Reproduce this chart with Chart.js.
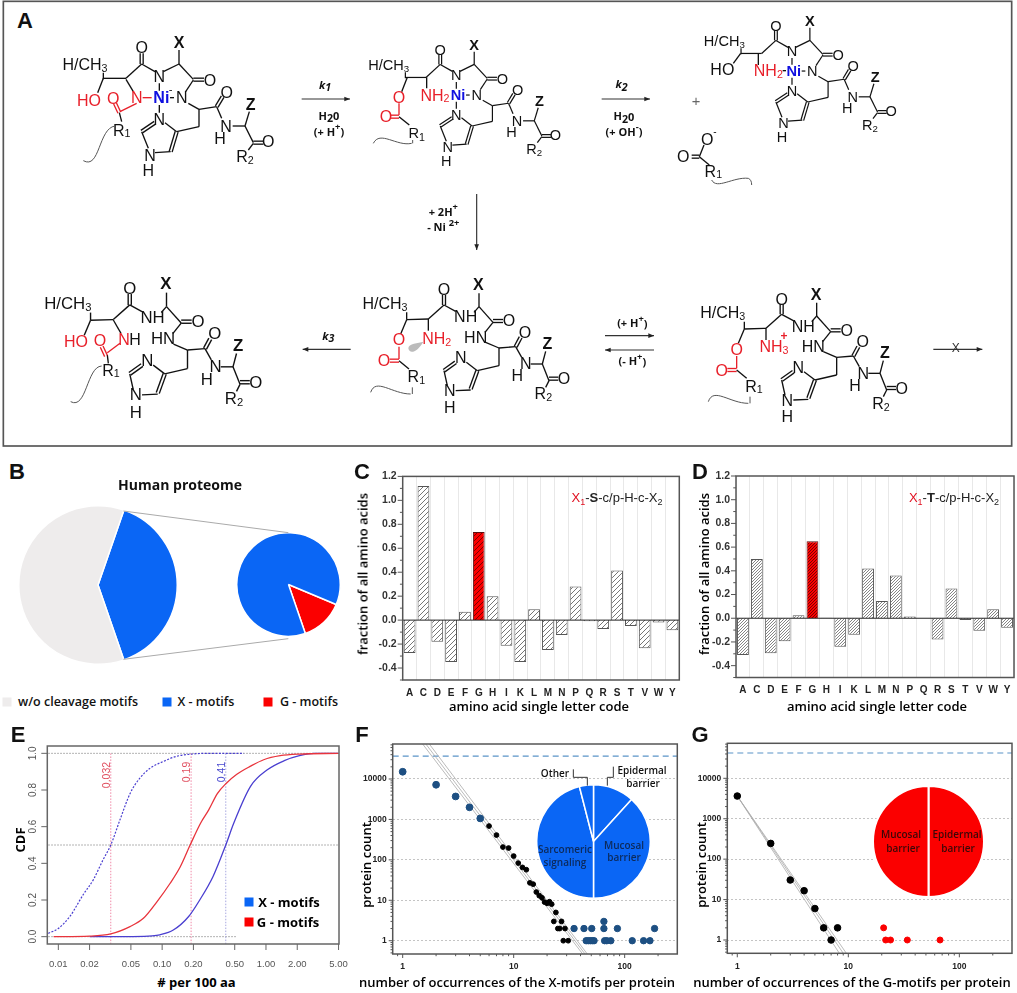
<!DOCTYPE html>
<html>
<head>
<meta charset="utf-8">
<title>Cleavage motifs</title>
<script src="https://cdn.jsdelivr.net/npm/chart.js@4"></script>
<style>
html, body { margin: 0; background: #fff; }
body { position: relative; width: 1017px; height: 993px; overflow: hidden; font-family: 'Open Sans', sans-serif; }
canvas { position: absolute; }
svg { position: absolute; left: 0; top: 0; }
.t { position: absolute; white-space: nowrap; color: #111; line-height: 1; }
.ax { font-weight: 600; font-size: 13px; color: #000; }
.pl { font-family: 'Liberation Sans', sans-serif; font-weight: 700; font-size: 22px; color: #111; }
.motif { font-family: 'Liberation Sans', sans-serif; font-size: 13px; color: #222; }
.motif sub { font-size: 9px; line-height: 0; }
</style>
</head>
<body>
<script>
// ===== panel B =====
const overviewLabels = ['X - motifs', 'w/o cleavage motifs'];
const overviewShare = [39.4, 60.6];
const motifLabels = ['G - motifs', 'X - motifs'];
const motifShare = [13.4, 86.6];

// ===== panels C, D =====
const aminoAcids = ['A','C','D','E','F','G','H','I','K','L','M','N','P','Q','R','S','T','V','W','Y'];
const serineValues = [-0.275,1.12,-0.18,-0.35,0.07,0.735,0.2,-0.215,-0.35,0.09,-0.25,-0.125,0.28,-0.01,-0.075,0.415,-0.05,-0.235,-0.02,-0.085];
const threonineValues = [-0.31,0.5,-0.295,-0.195,0.025,0.65,0.005,-0.24,-0.14,0.42,0.145,0.36,0.015,0,-0.18,0.25,-0.015,-0.105,0.075,-0.08];
const barTicks = [-0.5,-0.4,-0.3,-0.2,-0.1,0,0.1,0.2,0.3,0.4,0.5,0.6,0.7,0.8,0.9,1,1.1,1.2];
const barTickLabels = [-0.4,-0.2,0,0.2,0.4,0.6,0.8,1,1.2];

// ===== panel E =====
const cdfTicksX = [0.01,0.02,0.05,0.1,0.2,0.5,1,2,5];
const cdfTicksY = [0,0.2,0.4,0.6,0.8,1];
const xSolidX = [0.02,0.05,0.08,0.095,0.128,0.18,0.23,0.31,0.41,0.49,0.71,1.03,1.5,2.1,2.9,5];
const xSolidY = [0,0.0005,0.004,0.01,0.036,0.11,0.2,0.33,0.5,0.62,0.82,0.91,0.96,0.987,1,1];
const gSolidX = [0.009,0.02,0.032,0.049,0.066,0.089,0.119,0.149,0.186,0.235,0.28,0.34,0.42,0.52,0.71,0.95,1.37,2.1,5];
const gSolidY = [0,0.003,0.015,0.055,0.1,0.19,0.29,0.38,0.5,0.62,0.69,0.78,0.84,0.885,0.93,0.965,0.987,0.996,1];
const xDottedX = [0.008,0.01,0.0129,0.0174,0.0217,0.027,0.032,0.0394,0.049,0.061,0.077,0.103,0.138,0.186,0.27,0.61];
const xDottedY = [0.018,0.045,0.11,0.23,0.31,0.42,0.5,0.64,0.78,0.865,0.92,0.956,0.984,0.995,1,1];
const medianX = [0.032,0.19,0.41];

// ===== panel F =====
const fHeadX = [1,2,3,4,5];
const fHeadY = [15100,7200,3700,1990,1060];
const fMidX = [6,7,8,9,10,11,12,13,14,15,16,17,18,19,20,21,22,24,23,27,25,26,29,28,31];
const fMidY = [686,410,207,196,124,83,65,57,27,25,16,13,11.5,9,8.4,9.2,8,5,3,3,2,2,2,1,1];
const fTailX = [35,43,50.5,65,86,186,65,45,47,49,51,53,66,69,75,117,148,169];
const fTailY = [2,2,2,2,2,2,3,1,1,1,1,1,1,1,1,1,1,1];
const fCeiling = 36900;
const fFitStartX = [1.515,1.62,1.74];
const fFitEndX = [41.8,43.9,46];
const fFitY = [73000,0.47];
const fPieLabels = ['Epidermal barrier','Mucosal barrier','Sarcomeric signaling','Other'];
const fPieShare = [11.7,38.3,46,4];

// ===== panel G =====
const gHeadX = [1,2,3,4,5,6,7,8];
const gHeadY = [3640,245,30.5,16.6,6,2,1,2];
const gTailX = [20.8,21.7,24,34,67];
const gTailY = [2,1,1,1,1];
const gCeiling = 42200;
const gFitStartX = [1,1,1];
const gFitEndX = [8.3,9,9.6];
const gFitY = [3640,0.47];
const gPieLabels = ['Mucosal barrier','Epidermal barrier'];
const gPieShare = [50,50];

const countMajor = [1,10,100,1000,10000];
const occurrenceMajor = [1,10,100];

const BLUE = '#0a66f5', RED = '#fb0000', NAVY = '#1d4f82';

Chart.defaults.animation = false;
Chart.defaults.font.family = "'Liberation Sans', sans-serif";
Chart.defaults.plugins.legend.display = false;
Chart.defaults.plugins.tooltip.enabled = false;

// ticks, frame and rotated labels in the style of the original plots
Chart.register({
    id: 'decor',
    afterDatasetsDraw(chart, args, o) {
        if (!o.frameColor) return;
        const { ctx, chartArea: a } = chart;
        ctx.save();
        if (o.zeroLine) {
            const y0 = chart.scales.y.getPixelForValue(0);
            ctx.strokeStyle = '#222';
            ctx.lineWidth = 1;
            ctx.beginPath(); ctx.moveTo(a.left, y0); ctx.lineTo(a.right, y0); ctx.stroke();
        }
        ctx.strokeStyle = o.frameColor;
        ctx.lineWidth = o.frameWidth;
        ctx.strokeRect(a.left, a.top, a.right - a.left, a.bottom - a.top);
        ctx.lineWidth = 1;
        const sx = chart.scales.x, sy = chart.scales.y;
        if (o.tickX) sx.ticks.forEach((t, i) => {
            const p = sx.getPixelForTick(i);
            ctx.beginPath(); ctx.moveTo(p, a.bottom); ctx.lineTo(p, a.bottom + (t.major ? o.tickX : o.tickX * 0.55)); ctx.stroke();
        });
        sy.ticks.forEach((t, i) => {
            const p = sy.getPixelForTick(i);
            ctx.beginPath(); ctx.moveTo(a.left, p); ctx.lineTo(a.left - (t.major ? o.tickY : o.tickY * 0.55), p); ctx.stroke();
        });
        if (o.rotateY) {
            ctx.fillStyle = '#555';
            ctx.font = "10px 'Liberation Sans'";
            ctx.textAlign = 'center';
            ctx.textBaseline = 'middle';
            sy.ticks.forEach((t, i) => {
                ctx.save();
                ctx.translate(a.left - o.rotateY, sy.getPixelForTick(i));
                ctx.rotate(-Math.PI / 2);
                ctx.fillText(t.label, 0, 0);
                ctx.restore();
            });
        }
        ctx.restore();
    }
});

function addCanvas(left, top, width, height) {
    const c = document.createElement('canvas');
    c.width = width;
    c.height = height;
    c.style.left = left + 'px';
    c.style.top = top + 'px';
    document.body.appendChild(c);
    return c;
}

function label(html, x, y, cls, css, rot) {
    const d = document.createElement('div');
    d.className = 't ' + (cls || '');
    d.innerHTML = html;
    d.style.cssText = 'left:' + x + 'px;top:' + y + 'px;transform:translate(-50%,-50%)' + (rot ? ' rotate(' + rot + 'deg)' : '') + ';' + (css || '');
    document.body.appendChild(d);
}

function hatch(bg, line, size, width) {
    const c = document.createElement('canvas');
    c.width = c.height = size;
    const g = c.getContext('2d');
    g.fillStyle = bg;
    g.fillRect(0, 0, size, size);
    g.strokeStyle = line;
    g.lineWidth = width;
    g.beginPath();
    g.moveTo(-1, 1); g.lineTo(1, -1);
    g.moveTo(0, size); g.lineTo(size, 0);
    g.moveTo(size - 1, size + 1); g.lineTo(size + 1, size - 1);
    g.stroke();
    return g.createPattern(c, 'repeat');
}

const toPoints = (xs, ys) => xs.map((x, i) => ({ x: x, y: ys[i] }));

function logTicks(min, max) {
    const out = [];
    for (let e = -1; e <= 5; e++) {
        for (let j = 1; j <= 9; j++) {
            const v = j * Math.pow(10, e);
            if (v >= min && v <= max) out.push(Number(v.toPrecision(3)));
        }
    }
    return out;
}

// scale with a fixed outer size so the plot frame lands where it should
function fixSize(s, size, isHorizontal) {
    if (isHorizontal) s.height = size; else s.width = size;
    s.paddingLeft = s.paddingRight = s.paddingTop = s.paddingBottom = 0;
}

function fixedScale(base, size, tickValues, majorValues, isHorizontal) {
    return Object.assign({
        afterFit(s) { fixSize(s, size, isHorizontal); },
        afterBuildTicks(s) {
            s.ticks = tickValues.map(v => ({ value: v, major: majorValues.includes(v) }));
        },
        border: { display: false },
        grid: { display: false, drawTicks: false }
    }, base);
}

function barPanel(box, cats, values, tile, redTile, barPct) {
    const c = addCanvas(box.cx, box.cy, box.cw, box.ch);
    new Chart(c, {
        type: 'bar',
        data: {
            labels: cats,
            datasets: [{
                data: values,
                backgroundColor: cats.map(a => a === 'G' ? redTile : tile),
                borderColor: cats.map(a => a === 'G' ? '#5a1010' : '#555'),
                borderWidth: 1,
                barPercentage: barPct,
                categoryPercentage: 1
            }]
        },
        options: {
            responsive: false,
            layout: { padding: { top: box.t - box.cy, right: box.cx + box.cw - box.r, left: 0, bottom: 0 } },
            scales: {
                x: {
                    afterFit(s) { fixSize(s, box.cy + box.ch - box.b, true); },
                    border: { display: false },
                    grid: { offset: true, color: '#e8e8e8', drawTicks: false },
                    ticks: { padding: 7, autoSkip: false, maxRotation: 0, color: '#222', font: { size: 10, weight: 'bold' } }
                },
                y: fixedScale({
                    min: -0.5, max: 1.2,
                    ticks: {
                        padding: 6, autoSkip: false, color: '#333', font: { size: 10.5, weight: 'bold' },
                        callback(v, i, t) { return t[i].major ? v.toFixed(1) : ''; }
                    }
                }, box.l - box.cx, barTicks, barTickLabels, false)
            },
            plugins: { decor: { frameColor: '#555', frameWidth: 1.5, tickY: 5, zeroLine: true } }
        }
    });
}

function countPanel(box, datasets) {
    const c = addCanvas(box.cx, box.cy, box.cw, box.ch);
    const tickFont = { size: 8.5, weight: 'bold' };
    new Chart(c, {
        type: 'scatter',
        data: { datasets: datasets },
        options: {
            responsive: false,
            layout: { padding: { top: box.t - box.cy, right: box.cx + box.cw - box.r, left: 0, bottom: 0 } },
            scales: {
                x: fixedScale({
                    type: 'logarithmic', min: 0.813, max: 298,
                    ticks: {
                        padding: 8, autoSkip: false, maxRotation: 0, color: '#222', font: tickFont,
                        callback(v, i, t) { return t[i].major ? String(v) : ''; }
                    }
                }, box.cy + box.ch - box.b, logTicks(0.9, 298), occurrenceMajor, true),
                y: Object.assign(fixedScale({
                    type: 'logarithmic', min: 0.469, max: 73400,
                    ticks: {
                        padding: 6, autoSkip: false, color: '#222', font: tickFont,
                        callback(v, i, t) { return t[i].major ? String(v) : ''; }
                    }
                }, box.l - box.cx, logTicks(0.5, 73000), countMajor, false), {
                    grid: {
                        drawTicks: false,
                        color: ctx => ctx.tick && ctx.tick.major ? '#c4c4c4' : 'rgba(0,0,0,0)'
                    },
                    border: { display: false, dash: [2, 2] }
                })
            },
            plugins: { decor: { frameColor: '#555', frameWidth: 1.5, tickX: 4, tickY: 4 } }
        }
    });
}

function piePanel(left, top, size, labels, values, colors, rotation, gap) {
    const c = addCanvas(left, top, size, size);
    new Chart(c, {
        type: 'pie',
        data: { labels: labels, datasets: [{ data: values, backgroundColor: colors, borderColor: '#fff', borderWidth: gap }] },
        options: { responsive: false, rotation: rotation, layout: { padding: 0 } }
    });
}

const dots = (xs, ys, color, r) => ({ data: toPoints(xs, ys), backgroundColor: color, borderColor: color, pointRadius: r, showLine: false });
const trace = (pts, color, width, dash) => ({ data: pts, borderColor: color, borderWidth: width, borderDash: dash || [], pointRadius: 0, showLine: true, fill: false, cubicInterpolationMode: 'monotone' });

// ===== panel B =====
piePanel(18, 505, 160, overviewLabels, overviewShare, [BLUE, '#eeecec'], 19.1, 1.5);
piePanel(236, 532, 105, motifLabels, motifShare, [RED, BLUE], 112.8, 1.5);

// ===== panels C, D =====
barPanel({ cx: 350, cy: 470, cw: 335, ch: 230, l: 402.7, r: 679.3, t: 476.4, b: 680 },
    aminoAcids, serineValues, hatch('#fff', '#666', 5, 0.9), hatch(RED, '#5a0000', 5, 0.8), 0.85);
barPanel({ cx: 684, cy: 470, cw: 333, ch: 230, l: 736, r: 1014, t: 476, b: 677.5 },
    aminoAcids, threonineValues, hatch('#fff', '#666', 3, 0.8), hatch(RED, '#5a0000', 3, 0.8), 0.85);

// ===== panel E =====
const cdfTop = 1, cdfBottom = -0.04;
new Chart(addCanvas(0, 740, 352, 232), {
    type: 'scatter',
    data: {
        datasets: [
            trace(toPoints(gSolidX, gSolidY), '#e8343c', 1.3),
            trace(toPoints(xSolidX, xSolidY), '#4a3fd0', 1.3),
            trace(toPoints(xDottedX, xDottedY), '#4a3fd0', 1.2, [2, 1.5]),
            trace(toPoints([medianX[0], medianX[0]], [cdfBottom, cdfTop]), '#f08aa8', 1, [1.5, 1.5]),
            trace(toPoints([medianX[1], medianX[1]], [cdfBottom, cdfTop]), '#f08aa8', 1, [1.5, 1.5]),
            trace(toPoints([medianX[2], medianX[2]], [cdfBottom, cdfTop]), '#a8a8e0', 1, [1.5, 1.5]),
            trace(toPoints([0.008, 5], [1, 1]), '#999', 1, [1.5, 1.5]),
            trace(toPoints([0.008, 5.05], [0.5, 0.5]), '#999', 1, [1.5, 1.5]),
            trace(toPoints([0.008, 0.52], [0, 0]), '#999', 1, [1.5, 1.5])
        ]
    },
    options: {
        responsive: false,
        layout: { padding: { top: 6, right: 13, left: 0, bottom: 0 } },
        scales: {
            x: fixedScale({
                type: 'logarithmic', min: 0.00783, max: 5.05,
                ticks: {
                    padding: 15, autoSkip: false, maxRotation: 0, color: '#555', font: { size: 9.5 },
                    callback(v) { return v.toFixed(2); }
                }
            }, 28, cdfTicksX, cdfTicksX, true),
            y: fixedScale({
                min: -0.04, max: 1.04,
                ticks: { display: false, callback(v) { return v.toFixed(1); } }
            }, 47.3, cdfTicksY, cdfTicksY, false)
        },
        plugins: { decor: { frameColor: '#666', frameWidth: 1.5, tickX: 6, tickY: 6, rotateY: 14 } }
    }
});

// ===== panels F, G =====
countPanel({ cx: 345, cy: 738, cw: 340, ch: 236, l: 392.7, r: 677.3, t: 744, b: 954 }, [
    dots(fHeadX, fHeadY, NAVY, 3.4),
    dots(fTailX, fTailY, NAVY, 3.2),
    dots(fMidX, fMidY, '#000', 2.4),
    trace(toPoints([fFitStartX[0], fFitEndX[0]], fFitY), '#aaa', 0.8),
    trace(toPoints([fFitStartX[1], fFitEndX[1]], fFitY), '#aaa', 0.8),
    trace(toPoints([fFitStartX[2], fFitEndX[2]], fFitY), '#aaa', 0.8),
    trace(toPoints([0.813, 298], [fCeiling, fCeiling]), '#5b94c8', 1.2, [6, 4])
]);
countPanel({ cx: 680, cy: 738, cw: 337, ch: 236, l: 727.3, r: 1012.3, t: 743.3, b: 953.3 }, [
    dots(gHeadX, gHeadY, '#000', 3.3),
    dots(gTailX, gTailY, RED, 3),
    trace(toPoints([gFitStartX[0], gFitEndX[0]], gFitY), '#aaa', 0.8),
    trace(toPoints([gFitStartX[1], gFitEndX[1]], gFitY), '#aaa', 0.8),
    trace(toPoints([gFitStartX[2], gFitEndX[2]], gFitY), '#aaa', 0.8),
    trace(toPoints([0.813, 298], [gCeiling, gCeiling]), '#5b94c8', 1.2, [6, 4])
]);
piePanel(536, 784, 115, fPieLabels, fPieShare, [BLUE, BLUE, BLUE, BLUE], 0, 1.5);
piePanel(872, 785, 113, gPieLabels, gPieShare, [RED, RED], 0, 2);

// ===== text labels =====
label('A', 25, 21, 'pl');
label('B', 17, 472, 'pl');
label('C', 362, 472, 'pl');
label('D', 700, 472, 'pl');
label('E', 18, 735, 'pl');
label('F', 362, 735, 'pl');
label('G', 700, 735, 'pl');

label('Human proteome', 180, 485, '', 'font-weight:700;font-size:14px');
label('w/o cleavage motifs', 78, 702, '', 'font-weight:600;font-size:12.5px');
label('X - motifs', 206, 702, '', 'font-weight:600;font-size:12.5px');
label('G - motifs', 309, 702, '', 'font-weight:600;font-size:12.5px');
[[2, '#eeecec'], [162, BLUE], [263, RED]].forEach(s => {
    label('', s[0] + 4.5, 702, '', 'width:9px;height:9px;background:' + s[1]);
});

label('fraction of all amino acids', 363, 574, 'ax', '', -90);
label('amino acid single letter code', 539, 706, 'ax');
label('fraction of all amino acids', 704, 574, 'ax', '', -90);
label('amino acid single letter code', 877, 706, 'ax');
label('<span style="color:#e01020">X<sub>1</sub></span>-<b>S</b>-c/p-H-c-X<sub>2</sub>', 617, 497, 'motif');
label('<span style="color:#e01020">X<sub>1</sub></span>-<b>T</b>-c/p-H-c-X<sub>2</sub>', 954, 497, 'motif');

label('CDF', 20, 840, 'ax', 'font-weight:700', -90);
label('# per 100 aa', 196.5, 982, 'ax', 'font-weight:700');
label(String(medianX[0]), 106, 775, '', "font:10.5px 'Liberation Sans';color:#e05060", -90);
label(String(medianX[1]), 186, 772, '', "font:10.5px 'Liberation Sans';color:#e05060", -90);
label(String(medianX[2]), 221, 772, '', "font:10.5px 'Liberation Sans';color:#4a4ad0", -90);
label('', 248.5, 902, '', 'width:9px;height:9px;background:' + BLUE);
label('', 248.5, 922, '', 'width:9px;height:9px;background:' + RED);
label('X - motifs', 289, 902, 'ax', 'font-weight:700');
label('G - motifs', 288, 922, 'ax', 'font-weight:700');

label('protein count', 365.7, 865, 'ax', '', -90);
label('protein count', 700.7, 865, 'ax', '', -90);
label('number of occurrences of the X-motifs per protein', 517, 982, 'ax');
label('number of occurrences of the G-motifs per protein', 852, 982, 'ax');

const insetCss = 'font-weight:600;font-size:10px';
label('Other', 555, 773, '', insetCss);
label('Epidermal', 642, 770, '', insetCss);
label('barrier', 643, 783, '', insetCss);
label('Sarcomeric', 565, 849, '', insetCss + ';color:#0d2a5a');
label('signaling', 565, 862, '', insetCss + ';color:#0d2a5a');
label('Mucosal', 624, 845, '', insetCss + ';color:#0d2a5a');
label('barrier', 624, 857, '', insetCss + ';color:#0d2a5a');
label('Mucosal', 901, 834, '', insetCss + ';color:#3a0808');
label('barrier', 903, 848, '', insetCss + ';color:#3a0808');
label('Epidermal', 957, 834, '', insetCss + ';color:#3a0808');
label('barrier', 958, 848, '', insetCss + ';color:#3a0808');

// ===== reaction scheme (drawn at 3x, same grid as the zoomed crops) =====
let svg = '';
function seg(str, color, w) {
    str.split(';').forEach(s => {
        const p = s.trim().split(' ');
        svg += '<line x1="' + p[0] + '" y1="' + p[1] + '" x2="' + p[2] + '" y2="' + p[3] + '" stroke="' + (color || '#111') + '" stroke-width="' + (w || 4) + '"/>';
    });
}
function dbl(str, color) {
    str.split(';').forEach(s => {
        const p = s.trim().split(' ').map(Number);
        const dx = p[2] - p[0], dy = p[3] - p[1], n = Math.hypot(dx, dy);
        const ox = -dy / n * 4.5, oy = dx / n * 4.5;
        seg([p[0] + ox, p[1] + oy, p[2] + ox, p[3] + oy].join(' ') + ';' + [p[0] - ox, p[1] - oy, p[2] - ox, p[3] - oy].join(' '), color);
    });
}
const sub = s => '<tspan dy="10" font-size="32">' + s + '</tspan>';
const sup = s => '<tspan dy="-14" font-size="28">' + s + '</tspan>';
function txt(x, y, s, color, opts) {
    const o = opts || {};
    svg += '<text x="' + x + '" y="' + y + '" fill="' + (color || '#111') + '" font-size="' + (o.size || 48) + '"'
        + ' font-family="' + (o.family || 'Liberation Sans') + '" text-anchor="middle" dominant-baseline="central"'
        + (o.bold ? ' font-weight="700"' : '') + (o.italic ? ' font-style="italic"' : '') + '>' + s + '</text>';
}
function wave(d) { svg += '<path d="' + d + '" fill="none" stroke="#555" stroke-width="3"/>'; }
function group(tx, ty, sc, fn) {
    svg += '<g transform="translate(' + tx + ' ' + ty + ') scale(' + sc + ')">';
    fn();
    svg += '</g>';
}
function arrow(x1, y1, x2, y2) {
    seg(x1 + ' ' + y1 + ' ' + x2 + ' ' + y2, '#333', 3.5);
    const a = Math.atan2(y2 - y1, x2 - x1), L = 17, W = 7;
    const bx = x2 - L * Math.cos(a), by = y2 - L * Math.sin(a);
    svg += '<polygon fill="#222" points="' + x2 + ',' + y2 + ' ' + (bx - W * Math.sin(a)) + ',' + (by + W * Math.cos(a)) + ' ' + (bx + W * Math.sin(a)) + ',' + (by - W * Math.cos(a)) + '"/>';
}
const small = { size: 33, bold: true, family: 'Open Sans' };

function nickelBase() {
    seg('310 218 310 238;310 235 378 235;378 235 425 192;425 192 465 215;490 215 537 192;537 192 537 150;537 192 580 238;580 240 557 275;478 250 478 272;478 315 478 338;510 293 522 293;565 310 597 328;597 328 650 320;650 320 665 355;698 378 735 378;735 378 748 335;735 378 760 428;760 430 745 450;597 328 597 380;597 380 530 395;495 368 530 395;512 455 465 458;445 445 425 395');
    dbl('425 192 425 160;580 239 612 239;650 320 668 290;760 428 790 428;530 395 512 455;425 395 465 368');
    txt(255, 193, 'H/CH' + sub('3'));
    txt(425, 143, 'O');
    txt(537, 128, 'X', '#111', { bold: true });
    txt(478, 228, 'N');
    txt(630, 240, 'O');
    txt(484, 293, 'Ni', '#1010e0', { bold: true });
    txt(545, 293, 'N');
    txt(680, 278, 'O');
    txt(678, 378, 'N');
    txt(660, 415, 'H');
    txt(752, 313, 'Z', '#111', { bold: true });
    txt(805, 425, 'O');
    txt(735, 470, 'R' + sub('2'));
    txt(478, 358, 'N');
    txt(450, 465, 'N');
    txt(445, 512, 'H');
}

function freeBase() {
    seg('733 275 733 297;733 297 798 295;733 297 715 340;798 295 845 253;845 253 880 272;935 275 950 258;950 258 950 218;950 258 992 305;992 305 968 335;970 365 1010 382;1010 382 1060 378;1060 378 1078 410;1105 430 1140 430;1140 430 1150 392;1140 430 1160 480;1160 480 1150 500;1010 382 1010 435;1010 435 945 450;912 425 945 450;925 508 880 510;855 495 845 450');
    dbl('845 253 845 222;992 301 1022 301;1060 378 1075 350;1160 474 1188 474;945 450 925 505;845 450 880 425');
    txt(668, 248, 'H/CH' + sub('3'));
    txt(845, 207, 'O');
    txt(948, 193, 'X', '#111', { bold: true });
    txt(910, 288, 'NH');
    txt(1040, 300, 'O');
    txt(940, 350, 'HN');
    txt(1088, 335, 'O');
    txt(1090, 430, 'N');
    txt(1065, 465, 'H');
    txt(1155, 368, 'Z', '#111', { bold: true });
    txt(1205, 475, 'O');
    txt(1143, 520, 'R' + sub('2'));
    txt(895, 412, 'N');
    txt(862, 510, 'N');
    txt(862, 560, 'H');
}

function esterLeft() {
    seg('710 378 710 415', '#e8202a');
    dbl('682 420 710 420', '#e8202a');
    seg('710 420 740 445;798 295 798 330');
    txt(710, 358, 'O', '#e8202a');
    txt(665, 420, 'O', '#e8202a');
    txt(762, 468, 'R' + sub('1'));
    wave('M625,515 C640,470 690,520 745,520');
    seg('750 500 750 520', '#555', 3);
}

svg += '<rect x="10" y="4" width="3025" height="1334" fill="none" stroke="#555" stroke-width="5"/>';

// first molecule
nickelBase();
seg('310 235 293 278;378 238 400 275;358 338 365 365');
seg('428 293 455 293;410 310 360 335', '#e8202a');
dbl('345 310 358 338', '#e8202a');
txt(267, 300, 'HO', '#e8202a');
txt(340, 295, 'O', '#e8202a');
txt(410, 292, 'N', '#e8202a');
txt(512, 268, '-', '#111', { size: 34 });
txt(365, 390, 'R' + sub('1'));
wave('M250,482 C300,510 295,385 345,378');

// ester with nickel
group(934, 18.5, 0.91, nickelBase);
seg('1222 232 1205 275;1280 232 1280 265;1197 350 1228 375');
seg('1197 310 1197 345', '#e8202a');
dbl('1172 350 1197 350', '#e8202a');
txt(1197, 292, 'O', '#e8202a');
txt(1158, 350, 'O', '#e8202a');
txt(1305, 285, 'NH' + sub('2'), '#e8202a');
txt(1250, 400, 'R' + sub('1'), '#111', { size: 44 });
wave('M1120,430 C1140,390 1190,440 1235,430');
seg('1238 420 1238 430', '#555', 3);

// free peptide and acid
group(1941, -53.5, 0.91, nickelBase);
group(1500, 0, 1, () => {
    seg('722 160 700 190;775 162 775 195;848 212 858 212;598 470 612 435;598 470 628 495');
    dbl('575 470 598 470');
    txt(667, 207, 'HO');
    txt(805, 212, 'NH' + sub('2'), '#e8202a');
    txt(622, 418, 'O');
    txt(645, 395, '-', '#111', { size: 30 });
    txt(550, 470, 'O');
    txt(640, 513, 'R' + sub('1'));
    wave('M635,540 C650,570 700,530 745,535 C752,538 755,545 755,555');
});

// bottom row
group(1500, 690, 1, () => {
    freeBase();
    esterLeft();
    txt(822, 350, 'NH' + sub('3'), '#e8202a');
    txt(852, 318, '+', '#e8202a', { bold: true, size: 36 });
});
group(487, 662, 1, () => {
    freeBase();
    esterLeft();
    txt(823, 353, 'NH' + sub('2'), '#e8202a');
});
svg += '<path d="M1270,1025 C1255,1030 1225,1030 1225,1045 C1228,1062 1250,1060 1270,1025 Z" fill="#bbb"/>';
group(-498, 649, 1.05, freeBase);
group(0, 690, 1, () => {
    seg('340 270 363 310;322 375 325 400');
    seg('360 340 322 368', '#e8202a');
    dbl('305 350 318 378', '#e8202a');
    txt(228, 335, 'HO', '#e8202a');
    txt(300, 330, 'O', '#e8202a');
    txt(372, 328, 'N', '#e8202a');
    txt(405, 328, 'H');
    txt(333, 420, 'R' + sub('1'));
    wave('M212,515 C260,540 260,410 305,408');
});

// arrows and conditions
arrow(905, 297, 1050, 297);
txt(975, 252, 'k' + sub('1'), '#111', { size: 33, bold: true, italic: true, family: 'Open Sans' });
txt(987, 345, 'H' + sub('2') + '<tspan dy="-10">0</tspan>', '#111', small);
txt(987, 393, '(+ H' + sup('+') + '<tspan dy="14">)</tspan>', '#111', small);
arrow(1805, 297, 1950, 297);
txt(1865, 250, 'k' + sub('2'), '#111', { size: 33, bold: true, italic: true, family: 'Open Sans' });
txt(1872, 347, 'H' + sub('2') + '<tspan dy="-10">0</tspan>', '#111', small);
txt(1872, 393, '(+ OH' + sup('-') + '<tspan dy="14">)</tspan>', '#111', small);
txt(2088, 303, '+', '#666', { size: 44 });
arrow(1430, 582, 1430, 750);
txt(1330, 633, '+ 2H' + sup('+'), '#111', small);
txt(1330, 680, '- Ni ' + sup('2+'), '#111', small);
arrow(1052, 1048, 908, 1048);
txt(985, 1005, 'k' + sub('3'), '#111', { size: 33, bold: true, italic: true, family: 'Open Sans' });
arrow(1815, 1007, 1962, 1007);
arrow(1962, 1050, 1815, 1050);
txt(1897, 968, '(+ H' + sup('+') + '<tspan dy="14">)</tspan>', '#111', small);
txt(1897, 1082, '(- H' + sup('+') + '<tspan dy="14">)</tspan>', '#111', small);
arrow(2800, 1048, 2947, 1048);
txt(2867, 1045, 'X', '#333', { size: 36 });

// proteome connectors and pie leaders
seg('370 1533 865 1598;370 1978 865 1916', '#aaa', 3);
group(1020, 2160, 1, () => {
    seg('700 148 700 172;700 172 742 172;742 172 742 197;820 140 820 172;820 172 802 172;802 172 802 197', '#333', 3);
});

const holder = document.createElement('div');
holder.innerHTML = '<svg xmlns="http://www.w3.org/2000/svg" width="1017" height="993" viewBox="0 0 3051 2979">' + svg + '</svg>';
document.body.appendChild(holder);
</script>
</body>
</html>
